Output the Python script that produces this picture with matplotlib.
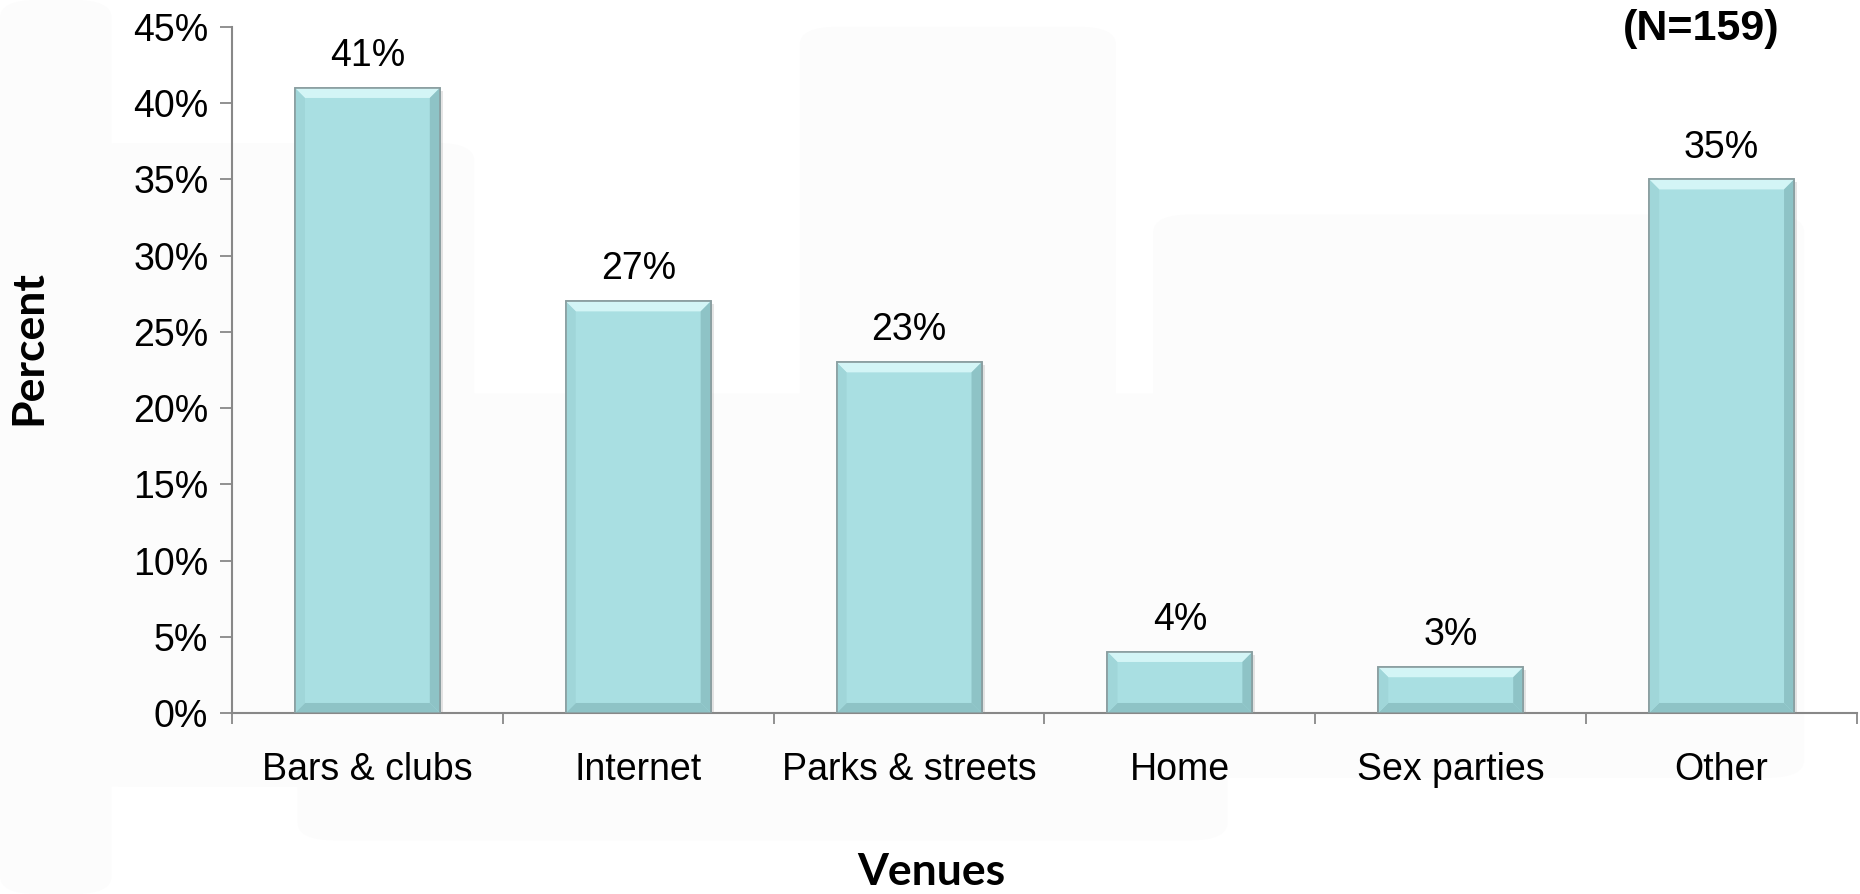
import numpy as np
import matplotlib.pyplot as plt
from matplotlib.patches import Polygon, FancyBboxPatch
from matplotlib.ticker import FixedLocator

venues = ["Bars & clubs", "Internet", "Parks & streets", "Home", "Sex parties", "Other"]
percent = [41, 27, 23, 4, 3, 35]
y_ticks = [0, 5, 10, 15, 20, 25, 30, 35, 40, 45]

face = "#a9dfe2"
light = "#d3f5f6"
dark = "#8ec3c6"
side = "#a0d6d9"
edge = "#8a9ea0"

fig = plt.figure(figsize=(18.6, 8.94), dpi=100)
fig.patch.set_facecolor("white")

# faint rounded panels behind the chart
for (x0, y0, w, h) in [(0.045, 0.12, 0.21, 0.72), (0.16, 0.06, 0.5, 0.5),
                       (0.43, 0.12, 0.17, 0.85), (0.62, 0.13, 0.35, 0.63),
                       (0.0, 0.0, 0.06, 1.0)]:
    fig.patches.append(FancyBboxPatch((x0, y0), w, h, boxstyle="round,pad=0,rounding_size=0.02",
                                      transform=fig.transFigure, facecolor="#fcfcfc",
                                      edgecolor="none", zorder=-5))

ax = fig.add_axes([0.1247, 0.2025, 0.8737, 0.7673])
ax.set_facecolor("none")

x = np.arange(len(venues))
width = 0.535
bars = ax.bar(x, percent, width=width, color=face, edgecolor=edge, linewidth=1.2, zorder=3)

ax.set_xlim(-0.5, len(venues) - 0.5)
ax.set_ylim(0, 45)

# bevel + shadow, sized in pixels and converted to data units
bw_px = 10
px_x = (len(venues)) / (0.8737 * 1860)
px_y = 45 / (0.7673 * 894)
bx, by = bw_px * px_x, bw_px * px_y
for rect in bars:
    l, b = rect.get_x(), rect.get_y()
    r, t = l + rect.get_width(), b + rect.get_height()
    ax.add_patch(plt.Rectangle((l + 3 * px_x, b), rect.get_width(), rect.get_height() - 3 * px_y,
                               facecolor="#000000", alpha=0.10, edgecolor="none", zorder=2))
    ax.add_patch(Polygon([(l, t), (r, t), (r - bx, t - by), (l + bx, t - by)],
                         facecolor=light, edgecolor="none", zorder=4))
    ax.add_patch(Polygon([(l, b), (r, b), (r - bx, b + by), (l + bx, b + by)],
                         facecolor=dark, edgecolor="none", zorder=4))
    ax.add_patch(Polygon([(r, t), (r, b), (r - bx, b + by), (r - bx, t - by)],
                         facecolor=dark, edgecolor="none", zorder=4))
    ax.add_patch(Polygon([(l, t), (l, b), (l + bx, b + by), (l + bx, t - by)],
                         facecolor=side, edgecolor="none", zorder=4))
    ax.add_patch(plt.Rectangle((l, b), rect.get_width(), rect.get_height(), facecolor="none",
                               edgecolor=edge, linewidth=1.2, zorder=5))

for xi, v in zip(x, percent):
    ax.annotate(f"{v}%", (xi, v), xytext=(0, 10), textcoords="offset points",
                ha="center", va="bottom", fontsize=27, family="Liberation Sans")

ax.set_yticks(y_ticks)
ax.set_yticklabels([f"{t}%" for t in y_ticks], fontsize=27, family="Liberation Sans")
ax.set_xticks(x)
ax.set_xticklabels(venues, fontsize=27, family="Liberation Sans")
ax.xaxis.set_minor_locator(FixedLocator(np.arange(len(venues) + 1) - 0.5))
ax.tick_params(axis="x", which="major", length=0, pad=28)
ax.tick_params(axis="x", which="minor", length=8, width=1.3, color="#888888", direction="out")
ax.tick_params(axis="y", length=9, width=1.3, color="#888888", pad=8)

for s in ["top", "right"]:
    ax.spines[s].set_visible(False)
for s in ["left", "bottom"]:
    ax.spines[s].set_color("#888888")
    ax.spines[s].set_linewidth(1.5)

fig.text(0.0155, 0.611, "Percent", rotation=90, ha="center", va="center",
         fontsize=32, fontweight="bold", family="Lato")
fig.text(0.5005, 0.025, "Venues", ha="center", va="center",
         fontsize=32, fontweight="bold", family="Lato")
fig.text(0.9145, 0.968, "(N=159)", ha="center", va="center",
         fontsize=31, fontweight="bold", family="Liberation Sans")

fig.savefig("out.png", dpi=100, facecolor="white")
